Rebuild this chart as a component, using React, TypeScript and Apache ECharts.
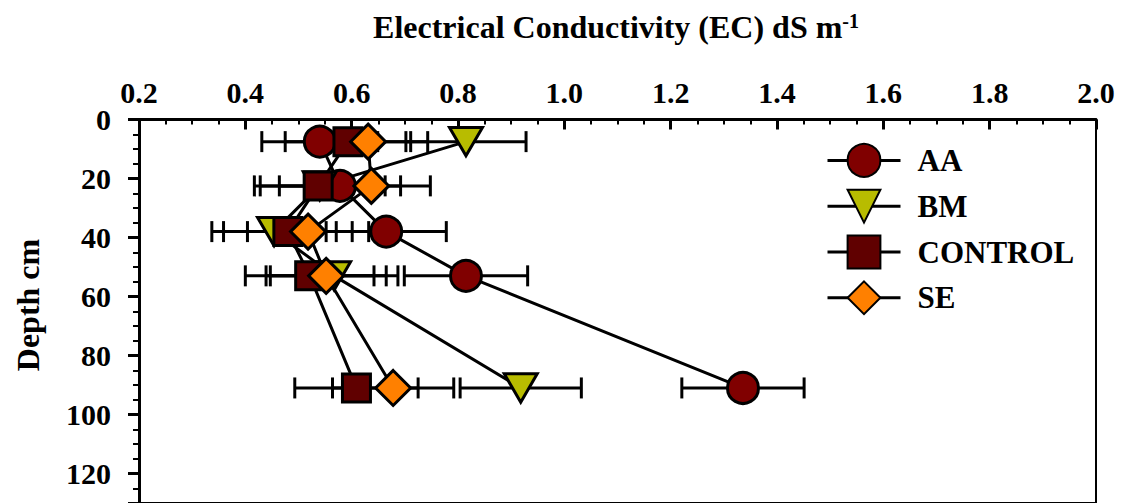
import React, { useEffect, useRef } from "react";
import * as echarts from "echarts";

// Depth of each sampled soil layer (cm)
const depths = [7.5, 22.5, 38, 53, 91];

// Mean electrical conductivity (dS m-1) and error per treatment
const aaEC = [0.54, 0.578, 0.665, 0.815, 1.336];
const aaErr = [0.109, 0.114, 0.113, 0.116, 0.115];
const bmEC = [0.815, 0.54, 0.454, 0.567, 0.918];
const bmErr = [0.113, 0.123, 0.117, 0.12, 0.114];
const controlEC = [0.593, 0.537, 0.48, 0.521, 0.609];
const controlErr = [0.118, 0.109, 0.121, 0.121, 0.116];
const seEC = [0.631, 0.637, 0.518, 0.552, 0.678];
const seErr = [0.112, 0.111, 0.114, 0.113, 0.114];

const treatments = ["AA", "BM", "CONTROL", "SE"];

// Axis ranges
const ecMin = 0.2;
const ecMax = 2.0;
const ecStep = 0.2;
const depthMin = 0;
const depthMax = 130;
const depthStep = 20;

const FONT = "'Times New Roman', 'Liberation Serif', serif";

const errorBars = (values: number[], errs: number[]) => ({
  type: "custom",
  z: 1,
  silent: true,
  renderItem: (_params: any, api: any) => {
    const x = api.value(0);
    const y = api.value(1);
    const e = api.value(2);
    const lo = api.coord([x - e, y]);
    const hi = api.coord([x + e, y]);
    const cap = 10.5;
    const style = { stroke: "#000", lineWidth: 3 };
    return {
      type: "group",
      children: [
        { type: "line", shape: { x1: lo[0], y1: lo[1], x2: hi[0], y2: hi[1] }, style },
        { type: "line", shape: { x1: lo[0], y1: lo[1] - cap, x2: lo[0], y2: lo[1] + cap }, style },
        { type: "line", shape: { x1: hi[0], y1: hi[1] - cap, x2: hi[0], y2: hi[1] + cap }, style },
      ],
    };
  },
  encode: { x: 0, y: 1 },
  data: values.map((v, i) => [v, depths[i], errs[i]]),
});

const profile = (name: string, values: number[], color: string, symbol: string, size: any) => ({
  type: "line",
  name,
  z: 2,
  data: values.map((v, i) => [v, depths[i]]),
  symbol,
  symbolSize: size,
  symbolKeepAspect: true,
  showAllSymbol: true,
  lineStyle: { color: "#000", width: 3 },
  itemStyle: { color, borderColor: "#000", borderWidth: 3, opacity: 1 },
  emphasis: { disabled: true },
});

export default function App() {
  const ref = useRef<HTMLDivElement>(null);

  useEffect(() => {
    if (!ref.current) return;
    const chart = echarts.init(ref.current, undefined, { renderer: "svg" });
    chart.setOption({
      animation: false,
      backgroundColor: "#fff",
      grid: {
        left: 139,
        top: 119.5,
        width: 957,
        height: 386,
        show: true,
        borderColor: "#000",
        borderWidth: 2,
        backgroundColor: "transparent",
      },
      xAxis: {
        type: "value",
        position: "top",
        min: ecMin,
        max: ecMax,
        interval: ecStep,
        axisLine: { show: true, lineStyle: { color: "#000", width: 3 } },
        axisTick: { show: true, inside: true, length: 10, lineStyle: { color: "#000", width: 3 } },
        minorTick: { show: true, splitNumber: 4, length: 5, lineStyle: { color: "#000", width: 2 } },
        splitLine: { show: false },
        axisLabel: {
          margin: 12,
          color: "#000",
          fontFamily: FONT,
          fontWeight: "bold",
          fontSize: 30,
          formatter: (v: number) => v.toFixed(1),
        },
      },
      yAxis: {
        type: "value",
        inverse: true,
        min: depthMin,
        max: depthMax,
        interval: depthStep,
        axisLine: { show: true, lineStyle: { color: "#000", width: 3 } },
        axisTick: { show: true, inside: false, length: 11, lineStyle: { color: "#000", width: 3 } },
        minorTick: { show: true, splitNumber: 4, length: 6, lineStyle: { color: "#000", width: 2 } },
        splitLine: { show: false },
        axisLabel: {
          margin: 28,
          color: "#000",
          fontFamily: FONT,
          fontWeight: "bold",
          fontSize: 30,
          formatter: (v: number) => (v % depthStep === 0 ? String(v) : ""),
        },
      },
      legend: {
        data: treatments,
        orient: "vertical",
        left: 826,
        top: 143,
        padding: 0,
        itemWidth: 73,
        itemHeight: 41,
        itemGap: 11,
        selectedMode: false,
        lineStyle: { color: "#000", width: 3 },
        textStyle: {
          color: "#000",
          fontFamily: FONT,
          fontWeight: "bold",
          fontSize: 31,
          padding: [0, 0, 0, 12],
        },
      },
      graphic: [
        {
          type: "text",
          x: 616,
          y: 27,
          style: {
            text: "{a|Electrical Conductivity (EC) dS m}{b|-1}",
            align: "center",
            verticalAlign: "middle",
            rich: {
              a: { fontFamily: FONT, fontWeight: "bold", fontSize: 32, fill: "#000" },
              b: { fontFamily: FONT, fontWeight: "bold", fontSize: 20, fill: "#000", verticalAlign: "top" },
            },
          },
        },
        {
          type: "text",
          x: 28,
          y: 305,
          rotation: Math.PI / 2,
          style: {
            text: "Depth cm",
            align: "center",
            verticalAlign: "middle",
            fontFamily: FONT,
            fontWeight: "bold",
            fontSize: 32,
            fill: "#000",
          },
        },
      ],
      series: [
        errorBars(aaEC, aaErr),
        errorBars(bmEC, bmErr),
        errorBars(controlEC, controlErr),
        errorBars(seEC, seErr),
        profile("AA", aaEC, "#800000", "circle", 31),
        profile("BM", bmEC, "#B8BC00", "path://M0,0L36,0L18,31Z", 33),
        profile("CONTROL", controlEC, "#600000", "rect", 28),
        profile("SE", seEC, "#FF8000", "diamond", 35),
      ],
    });
    return () => chart.dispose();
  }, []);

  return (
    <div
      ref={ref}
      style={{ position: "absolute", left: 0, top: 0, width: 1127, height: 503 }}
    />
  );
}
